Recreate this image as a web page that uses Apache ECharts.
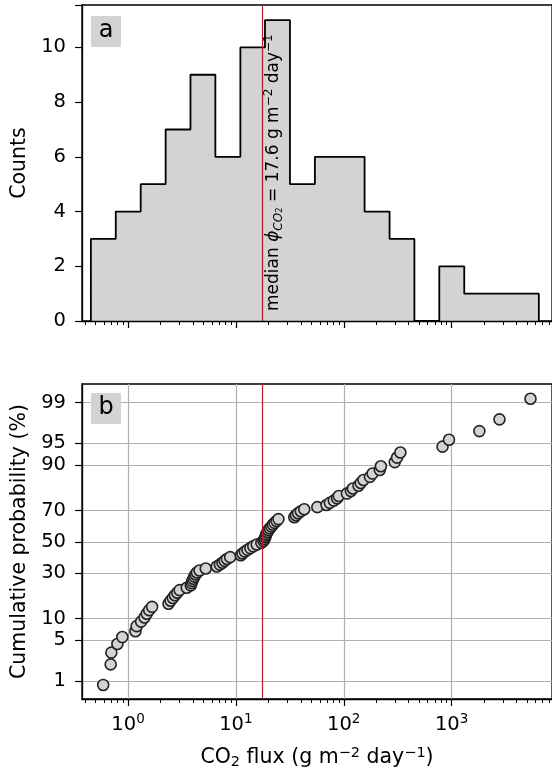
<!DOCTYPE html>
<html><head><meta charset="utf-8">
<script src="https://cdn.jsdelivr.net/npm/echarts@6/dist/echarts.min.js"></script>
<style>html,body{margin:0;padding:0;background:#fff}#c{width:552px;height:775px}</style>
</head><body><div id="c"></div>
<script>
// ---- data ----
const binEdges = [0.452, 0.769, 1.31, 2.23, 3.79, 6.45, 11.0, 18.6, 31.7, 54.0, 91.8, 156, 266, 452, 769, 1310, 2230, 3790, 6440];
const binCounts = [3, 4, 5, 7, 9, 6, 10, 11, 5, 6, 6, 4, 3, 0, 2, 1, 1, 1];
const fluxValues = [
  0.588, 0.69, 0.70,
  0.796, 0.885, 1.17, 1.2,
  1.32, 1.42, 1.49, 1.57, 1.67,
  2.37, 2.48, 2.6, 2.72, 2.86, 3.01, 3.5,
  3.82, 3.88, 3.95, 4.03, 4.12, 4.22, 4.35, 4.6, 5.25,
  6.65, 7.1, 7.5, 7.85, 8.25, 8.85,
  11.1, 11.5, 12.1, 12.8, 13.6, 14.5, 15.6, 17.2, 18.0, 18.4,
  18.7, 18.9, 19.2, 19.6, 20.0, 20.6, 21.3, 22.0, 22.8, 23.8, 24.8,
  34.8, 36.0, 37.7, 40.0, 43.0,
  56.9, 69.2, 74.3, 80.8, 86.7, 89.9,
  107, 116.5, 121.5, 137, 143.8, 152.3,
  175, 185, 216, 221,
  297, 312, 335,
  824, 946,
  1810, 2778, 5390
];
const cumProb = [
  0.84, 2.03, 3.21, 4.40, 5.58, 6.76, 7.95, 9.13, 10.32, 11.50,
  12.69, 13.87, 15.06, 16.24, 17.43, 18.61, 19.79, 20.98, 22.16, 23.35,
  24.53, 25.72, 26.90, 28.09, 29.27, 30.46, 31.64, 32.82, 34.01, 35.19,
  36.38, 37.56, 38.75, 39.93, 41.12, 42.30, 43.49, 44.67, 45.85, 47.04,
  48.22, 49.41, 50.59, 51.78, 52.96, 54.15, 55.33, 56.51, 57.70, 58.88,
  60.07, 61.25, 62.44, 63.62, 64.81, 65.99, 67.18, 68.36, 69.55, 70.73,
  71.91, 73.10, 74.28, 75.47, 76.65, 77.84, 79.02, 80.21, 81.39, 82.58,
  83.76, 84.94, 86.13, 87.31, 88.50, 89.68, 90.87, 92.05, 93.24, 94.42,
  95.61, 96.79, 97.97, 99.16
];
const medianFlux = 17.6;
const countTicks = [0, 2, 4, 6, 8, 10];
const probTicks = [1, 5, 10, 30, 50, 70, 90, 95, 99];
const majorFluxTicks = [1, 10, 100, 1000];
const minorFluxTicks = [0.4, 0.5, 0.6, 0.7, 0.8, 0.9, 2, 3, 4, 5, 6, 7, 8, 9,
  20, 30, 40, 50, 60, 70, 80, 90, 200, 300, 400, 500, 600, 700, 800, 900,
  2000, 3000, 4000, 5000, 6000, 7000, 8000];

// ---- helpers ----
function probit(p) {
  const a=[-3.969683028665376e+01,2.209460984245205e+02,-2.759285104469687e+02,1.383577518672690e+02,-3.066479806614716e+01,2.506628277459239e+00];
  const b=[-5.447609879822406e+01,1.615858368580409e+02,-1.556989798598866e+02,6.680131188771972e+01,-1.328068155288572e+01];
  const c=[-7.784894002430293e-03,-3.223964580411365e-01,-2.400758277161838e+00,-2.549671479870357e+00,4.374664141464968e+00,2.938163982698783e+00];
  const d=[7.784695709041462e-03,3.224671290700398e-01,2.445134137142996e+00,3.754408661907416e+00];
  const pl=0.02425, ph=1-pl; let q,r;
  if (p<pl){q=Math.sqrt(-2*Math.log(p));return (((((c[0]*q+c[1])*q+c[2])*q+c[3])*q+c[4])*q+c[5])/((((d[0]*q+d[1])*q+d[2])*q+d[3])*q+1);}
  if (p<=ph){q=p-0.5;r=q*q;return (((((a[0]*r+a[1])*r+a[2])*r+a[3])*r+a[4])*r+a[5])*q/(((((b[0]*r+b[1])*r+b[2])*r+b[3])*r+b[4])*r+1);}
  q=Math.sqrt(-2*Math.log(1-p));return -(((((c[0]*q+c[1])*q+c[2])*q+c[3])*q+c[4])*q+c[5])/((((d[0]*q+d[1])*q+d[2])*q+d[3])*q+1);
}
const probZ = probTicks.map(p => probit(p / 100));

const FONT = 'DejaVu Sans';
const TICK_FS = 19.5, NAME_FS = 20.5;
const xMin = 0.374, xMax = 8530;
const zMin = -2.626, zMax = 2.638;

const histData = [[binEdges[0], 0]];
binCounts.forEach((c, i) => histData.push([binEdges[i], c]));
histData.push([binEdges[binEdges.length - 1], binCounts[binCounts.length - 1]]);
histData.push([binEdges[binEdges.length - 1], 0]);

const scatterData = fluxValues.map((v, i) => [v, probit(cumProb[i] / 100)]);

const tickRich = {
  n: {fontFamily: FONT, fontSize: TICK_FS, color: '#000', lineHeight: 26},
  s: {fontFamily: FONT, fontSize: 13.5, color: '#000', lineHeight: 10, verticalAlign: 'top'}
};
const nameRich = {
  n: {fontFamily: FONT, fontSize: NAME_FS, color: '#000', lineHeight: 24},
  sub: {fontFamily: FONT, fontSize: 14.5, color: '#000', lineHeight: 12, verticalAlign: 'bottom'},
  sup: {fontFamily: FONT, fontSize: 14.5, color: '#000', lineHeight: 12, verticalAlign: 'top'}
};

function majorX(gridIndex, showLabels, z) {
  return {
    type: 'log', logBase: 10, gridIndex, min: xMin, max: xMax, position: 'bottom', z,
    axisLine: {show: true, onZero: false, lineStyle: {color: '#000', width: 1.3}},
    axisTick: {show: true, customValues: majorFluxTicks, length: 7, lineStyle: {color: '#000', width: 1.2}},
    axisLabel: {show: showLabels, customValues: majorFluxTicks, margin: 13,
      formatter: v => '{n|10}{s|' + Math.round(Math.log10(v)) + '}', rich: tickRich},
    splitLine: {show: gridIndex === 1, lineStyle: {color: '#b0b0b0', width: 1.2}},
    minorTick: {show: false}, minorSplitLine: {show: false}
  };
}
function minorX(gridIndex, z) {
  return {
    type: 'log', logBase: 10, gridIndex, min: xMin, max: xMax, position: 'bottom', z,
    axisLine: {show: false, onZero: false},
    axisTick: {show: true, customValues: minorFluxTicks, length: 4, lineStyle: {color: '#000', width: 1}},
    axisLabel: {show: false},
    splitLine: {show: false}
  };
}

const option = {
  animation: false,
  backgroundColor: '#fff',
  grid: [
    {left: 82, top: 5, width: 475.6, height: 316, show: true, borderColor: '#000', borderWidth: 1.3, backgroundColor: 'transparent'},
    {left: 82, top: 384, width: 475.6, height: 315, show: true, borderColor: '#000', borderWidth: 1.3, backgroundColor: 'transparent'}
  ],
  xAxis: [
    majorX(0, false, 10), minorX(0, 10),
    Object.assign(majorX(1, true, 0), {
      name: '{n|CO}{sub|2}{n| flux (g m}{sup|\u22122}{n| day}{sup|\u22121}{n|)}',
      nameLocation: 'middle', nameGap: 47, nameTextStyle: {rich: nameRich}
    }),
    minorX(1, 0)
  ],
  yAxis: [
    {
      type: 'value', gridIndex: 0, min: 0, max: 11.55, interval: 2, z: 10,
      name: 'Counts', nameLocation: 'middle', nameGap: 48,
      nameTextStyle: {fontFamily: FONT, fontSize: NAME_FS, color: '#000'},
      axisLine: {show: true, lineStyle: {color: '#000', width: 1.3}},
      axisTick: {show: true, length: 7, lineStyle: {color: '#000', width: 1.2}},
      axisLabel: {fontFamily: FONT, fontSize: TICK_FS, color: '#000', margin: 16,
        formatter: v => (countTicks.indexOf(v) >= 0 ? String(v) : '')},
      splitLine: {show: false}
    },
    {
      type: 'value', gridIndex: 1, min: zMin, max: zMax,
      name: 'Cumulative probability (%)', nameLocation: 'middle', nameGap: 48,
      nameTextStyle: {fontFamily: FONT, fontSize: NAME_FS, color: '#000'},
      axisLine: {show: true, lineStyle: {color: '#000', width: 1.3}},
      axisTick: {show: true, customValues: probZ, length: 7, lineStyle: {color: '#000', width: 1.2}},
      axisLabel: {customValues: probZ, fontFamily: FONT, fontSize: TICK_FS, color: '#000', margin: 16,
        formatter: v => {
          let best = 0;
          probZ.forEach((z, i) => { if (Math.abs(z - v) < Math.abs(probZ[best] - v)) best = i; });
          return String(probTicks[best]);
        }},
      splitLine: {show: true, lineStyle: {color: '#b0b0b0', width: 1.2}}
    }
  ],
  series: [
    {
      type: 'line', xAxisIndex: 0, yAxisIndex: 0, data: histData, step: 'end',
      symbol: 'none', showSymbol: false, z: 2,
      lineStyle: {color: '#000', width: 1.8},
      areaStyle: {color: '#d3d3d3', opacity: 1}
    },
    {
      type: 'line', xAxisIndex: 0, yAxisIndex: 0, data: [], z: 3,
      markLine: {silent: true, symbol: 'none', label: {show: false},
        lineStyle: {color: '#ff0000', width: 1.2, type: 'solid'}, data: [{xAxis: medianFlux}]}
    },
    {
      type: 'line', xAxisIndex: 2, yAxisIndex: 1, data: [], z: 1,
      markLine: {silent: true, symbol: 'none', label: {show: false},
        lineStyle: {color: '#ff0000', width: 1.2, type: 'solid'}, data: [{xAxis: medianFlux}]}
    },
    {
      type: 'scatter', xAxisIndex: 2, yAxisIndex: 1, data: scatterData, z: 3,
      symbol: 'circle', symbolSize: 11,
      itemStyle: {color: '#d3d3d3', borderColor: '#222', borderWidth: 1.6, opacity: 1}
    }
  ]
};

const chart = echarts.init(document.getElementById('c'), null, {renderer: 'canvas'});
chart.setOption(option);

const medX = chart.convertToPixel({xAxisIndex: 0}, medianFlux);
const annRich = {
  n: {fontFamily: FONT, fontSize: 17, color: '#000', lineHeight: 22},
  i: {fontFamily: FONT, fontSize: 17, color: '#000', lineHeight: 22, fontStyle: 'italic'},
  is: {fontFamily: FONT, fontSize: 12, color: '#000', lineHeight: 12, fontStyle: 'italic', verticalAlign: 'bottom'},
  iss: {fontFamily: FONT, fontSize: 8.5, color: '#000', lineHeight: 8, verticalAlign: 'bottom'},
  sup: {fontFamily: FONT, fontSize: 12, color: '#000', lineHeight: 10, verticalAlign: 'top'}
};
chart.setOption({
  graphic: [
    {type: 'rect', z: 100, shape: {x: 91, y: 16, width: 30, height: 31}, style: {fill: '#d3d3d3'}},
    {type: 'text', z: 101, x: 106, y: 31, style: {text: 'a', font: '24px "DejaVu Sans"', fill: '#000', align: 'center', verticalAlign: 'middle', textAlign: 'center', textVerticalAlign: 'middle'}},
    {type: 'rect', z: 100, shape: {x: 91, y: 393, width: 30, height: 31}, style: {fill: '#d3d3d3'}},
    {type: 'text', z: 101, x: 106, y: 408, style: {text: 'b', font: '24px "DejaVu Sans"', fill: '#000', align: 'center', verticalAlign: 'middle', textAlign: 'center', textVerticalAlign: 'middle'}},
    {type: 'text', z: 50, x: medX + 11, y: 311, rotation: Math.PI / 2,
      style: {text: '{n|median }{i|\u03d5}{is|CO}{iss|2}{n| = ' + medianFlux + ' g m}{sup|\u22122}{n| day}{sup|\u22121}',
        rich: annRich, align: 'left', verticalAlign: 'middle', textAlign: 'left', textVerticalAlign: 'middle'}}
  ]
});
</script>
</body></html>
